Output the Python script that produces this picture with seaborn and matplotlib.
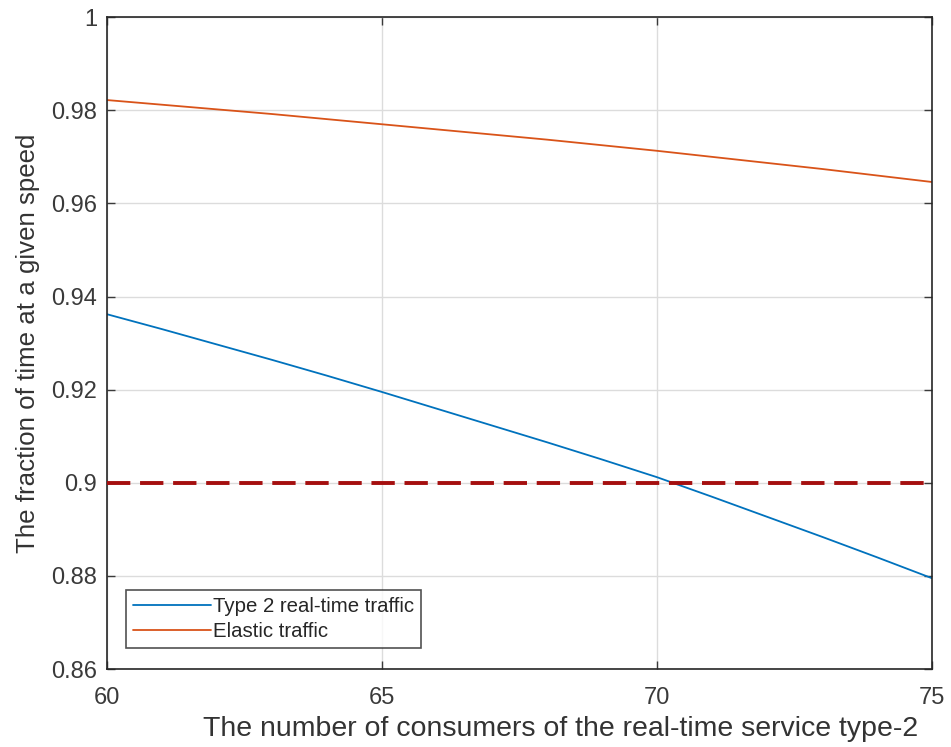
import matplotlib
matplotlib.use("Agg")
import matplotlib.pyplot as plt
import seaborn as sns
import pandas as pd
import numpy as np

consumers = [60, 61, 62, 63, 64, 65, 66, 67, 68, 69, 70, 71, 72, 73, 74, 75]
type2_realtime = [0.9362, 0.9330, 0.9297, 0.9264, 0.9230, 0.9195, 0.9159, 0.9123,
                  0.9087, 0.9050, 0.9012, 0.8970, 0.8927, 0.8884, 0.8840, 0.8795]
elastic = [0.9822, 0.9812, 0.9802, 0.9792, 0.9781, 0.9770, 0.9759, 0.9748,
           0.9737, 0.9725, 0.9713, 0.9700, 0.9687, 0.9674, 0.9660, 0.9646]
threshold = 0.9
series_names = ["Type 2 real-time traffic", "Elastic traffic"]
x_ticks = [60, 65, 70, 75]
y_ticks = [0.86, 0.88, 0.9, 0.92, 0.94, 0.96, 0.98, 1]
y_tick_labels = ["0.86", "0.88", "0.9", "0.92", "0.94", "0.96", "0.98", "1"]

sns.set_theme(style="white")
plt.rcParams['font.family'] = ['Liberation Sans', 'DejaVu Sans']

df = pd.DataFrame({
    "x": consumers * 2,
    "y": type2_realtime + elastic,
    "series": [series_names[0]] * len(consumers) + [series_names[1]] * len(consumers),
})

fig = plt.figure(figsize=(9.51, 7.47), dpi=100)
ax = fig.add_axes([0.1125, 0.1044, 0.8675, 0.8726])

sns.lineplot(data=df, x="x", y="y", hue="series", hue_order=series_names,
             palette=["#0072BD", "#D95319"], linewidth=1.3, ax=ax, legend=True)
ax.axhline(threshold, color="#A50F0F", linestyle=(0, (6, 2.5)), linewidth=2.8, zorder=3)

ax.set_xlim(60, 75)
ax.set_ylim(0.86, 1.0)
ax.set_xticks(x_ticks)
ax.set_yticks(y_ticks)
ax.set_yticklabels(y_tick_labels)
ax.grid(True, color="#DCDCDC", linewidth=1.0)
ax.tick_params(direction="in", length=6, width=1, colors="#3a3a3a", labelsize=17,
               top=True, right=True, bottom=True, left=True)
ax.tick_params(axis="x", pad=13)
ax.tick_params(axis="y", pad=7)
for s in ax.spines.values():
    s.set_color("#262626")
    s.set_linewidth(1.2)

ax.set_xlabel("The number of consumers of the real-time service type-2", fontsize=20.5,
              color="#333333")
ax.xaxis.set_label_coords(0.55, -0.072)
ax.set_ylabel("The fraction of time at a given speed", fontsize=18.6, color="#333333", labelpad=8)

leg = ax.legend(loc="lower left", bbox_to_anchor=(0.023, 0.032), fontsize=14.7, frameon=True,
                fancybox=False, edgecolor="#262626", handlelength=3.8, handletextpad=0.1,
                borderpad=0.35, labelspacing=0.3, borderaxespad=0)
leg.get_frame().set_linewidth(1.2)
for t in leg.get_texts():
    t.set_color("#262626")

fig.savefig("out.png", dpi=100)
